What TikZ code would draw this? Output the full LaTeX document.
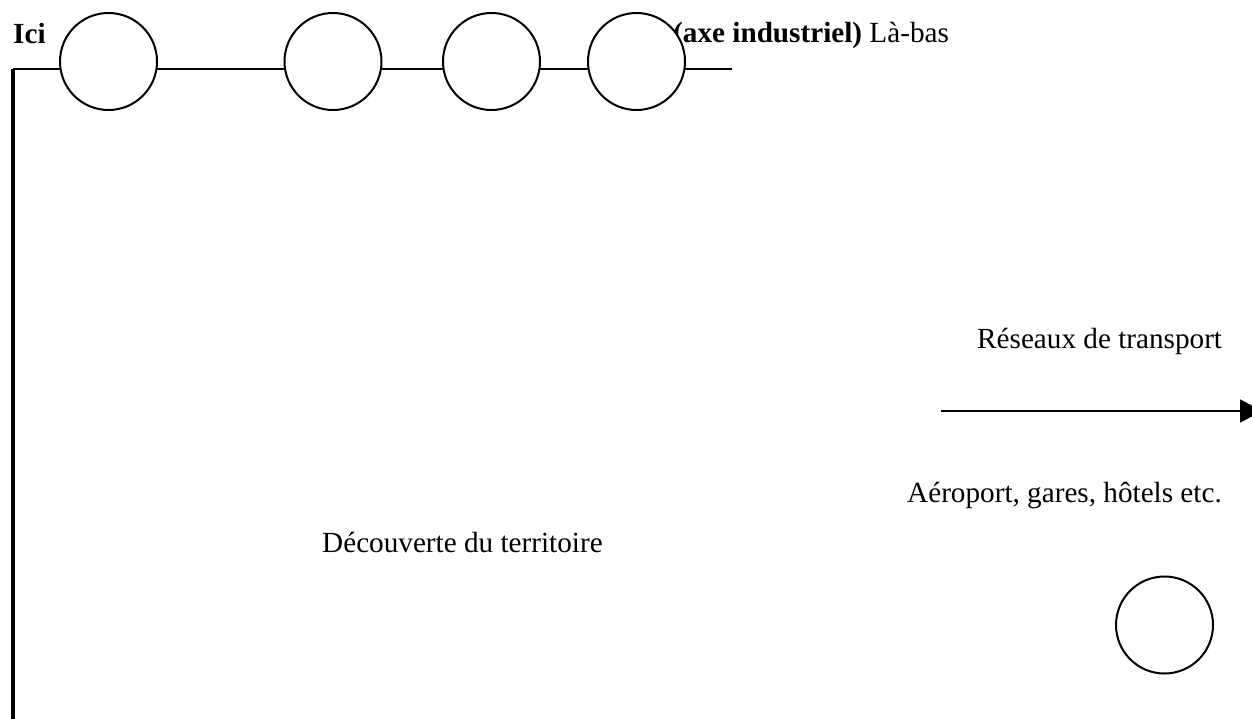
\documentclass[tikz,border=0pt]{standalone}
\usepackage{fontspec}
\setmainfont{Liberation Serif}
\usetikzlibrary{arrows.meta}
\begin{document}
\begin{tikzpicture}[x=1pt,y=-1pt,
  station/.style={circle,draw=black,fill=white,line width=2pt,minimum size=97pt,inner sep=0pt},
  axis/.style={line width=2pt},
  vaxis/.style={line width=4pt},
  lbl/.style={anchor=base west,inner sep=0pt,font=\fontsize{29.2}{34}\selectfont},
  flow/.style={line width=2pt,-{Triangle[length=22pt,width=23pt]}}]
\clip (0,0) rectangle (1252,718);
\fill[white] (0,0) rectangle (1252,718);
% axes
\coordinate (corner) at (12.7,68.5);
\coordinate (axend) at (732,68.5);
\coordinate (bottom) at (12.7,730);
\draw[vaxis] (bottom) -- (corner);
\draw[axis] (corner) -- (axend);
% top labels
\node[lbl] (ici) at (13,43) {\bfseries Ici};
\node[lbl] (labas) at (673,42) {\textbf{(axe industriel)} Là-bas};
% stations on the axis
\node[station] (c1) at (108.5,61.5) {};
\node[station] (c2) at (333,61.5) {};
\node[station] (c3) at (491.5,61.5) {};
\node[station] (c4) at (636.5,61.5) {};
% right side
\node[lbl] (reseaux) at (977,348) {Réseaux de transport};
\coordinate (astart) at (941,411);
\coordinate (aend) at (1262,411);
\draw[flow] (astart) -- (aend);
\node[lbl] (aero) at (907,502) {Aéroport, gares, hôtels etc.};
\node[lbl] (decouv) at (322,552) {Découverte du territoire};
\node[station] (c5) at (1164.5,625) {};
\end{tikzpicture}
\end{document}
